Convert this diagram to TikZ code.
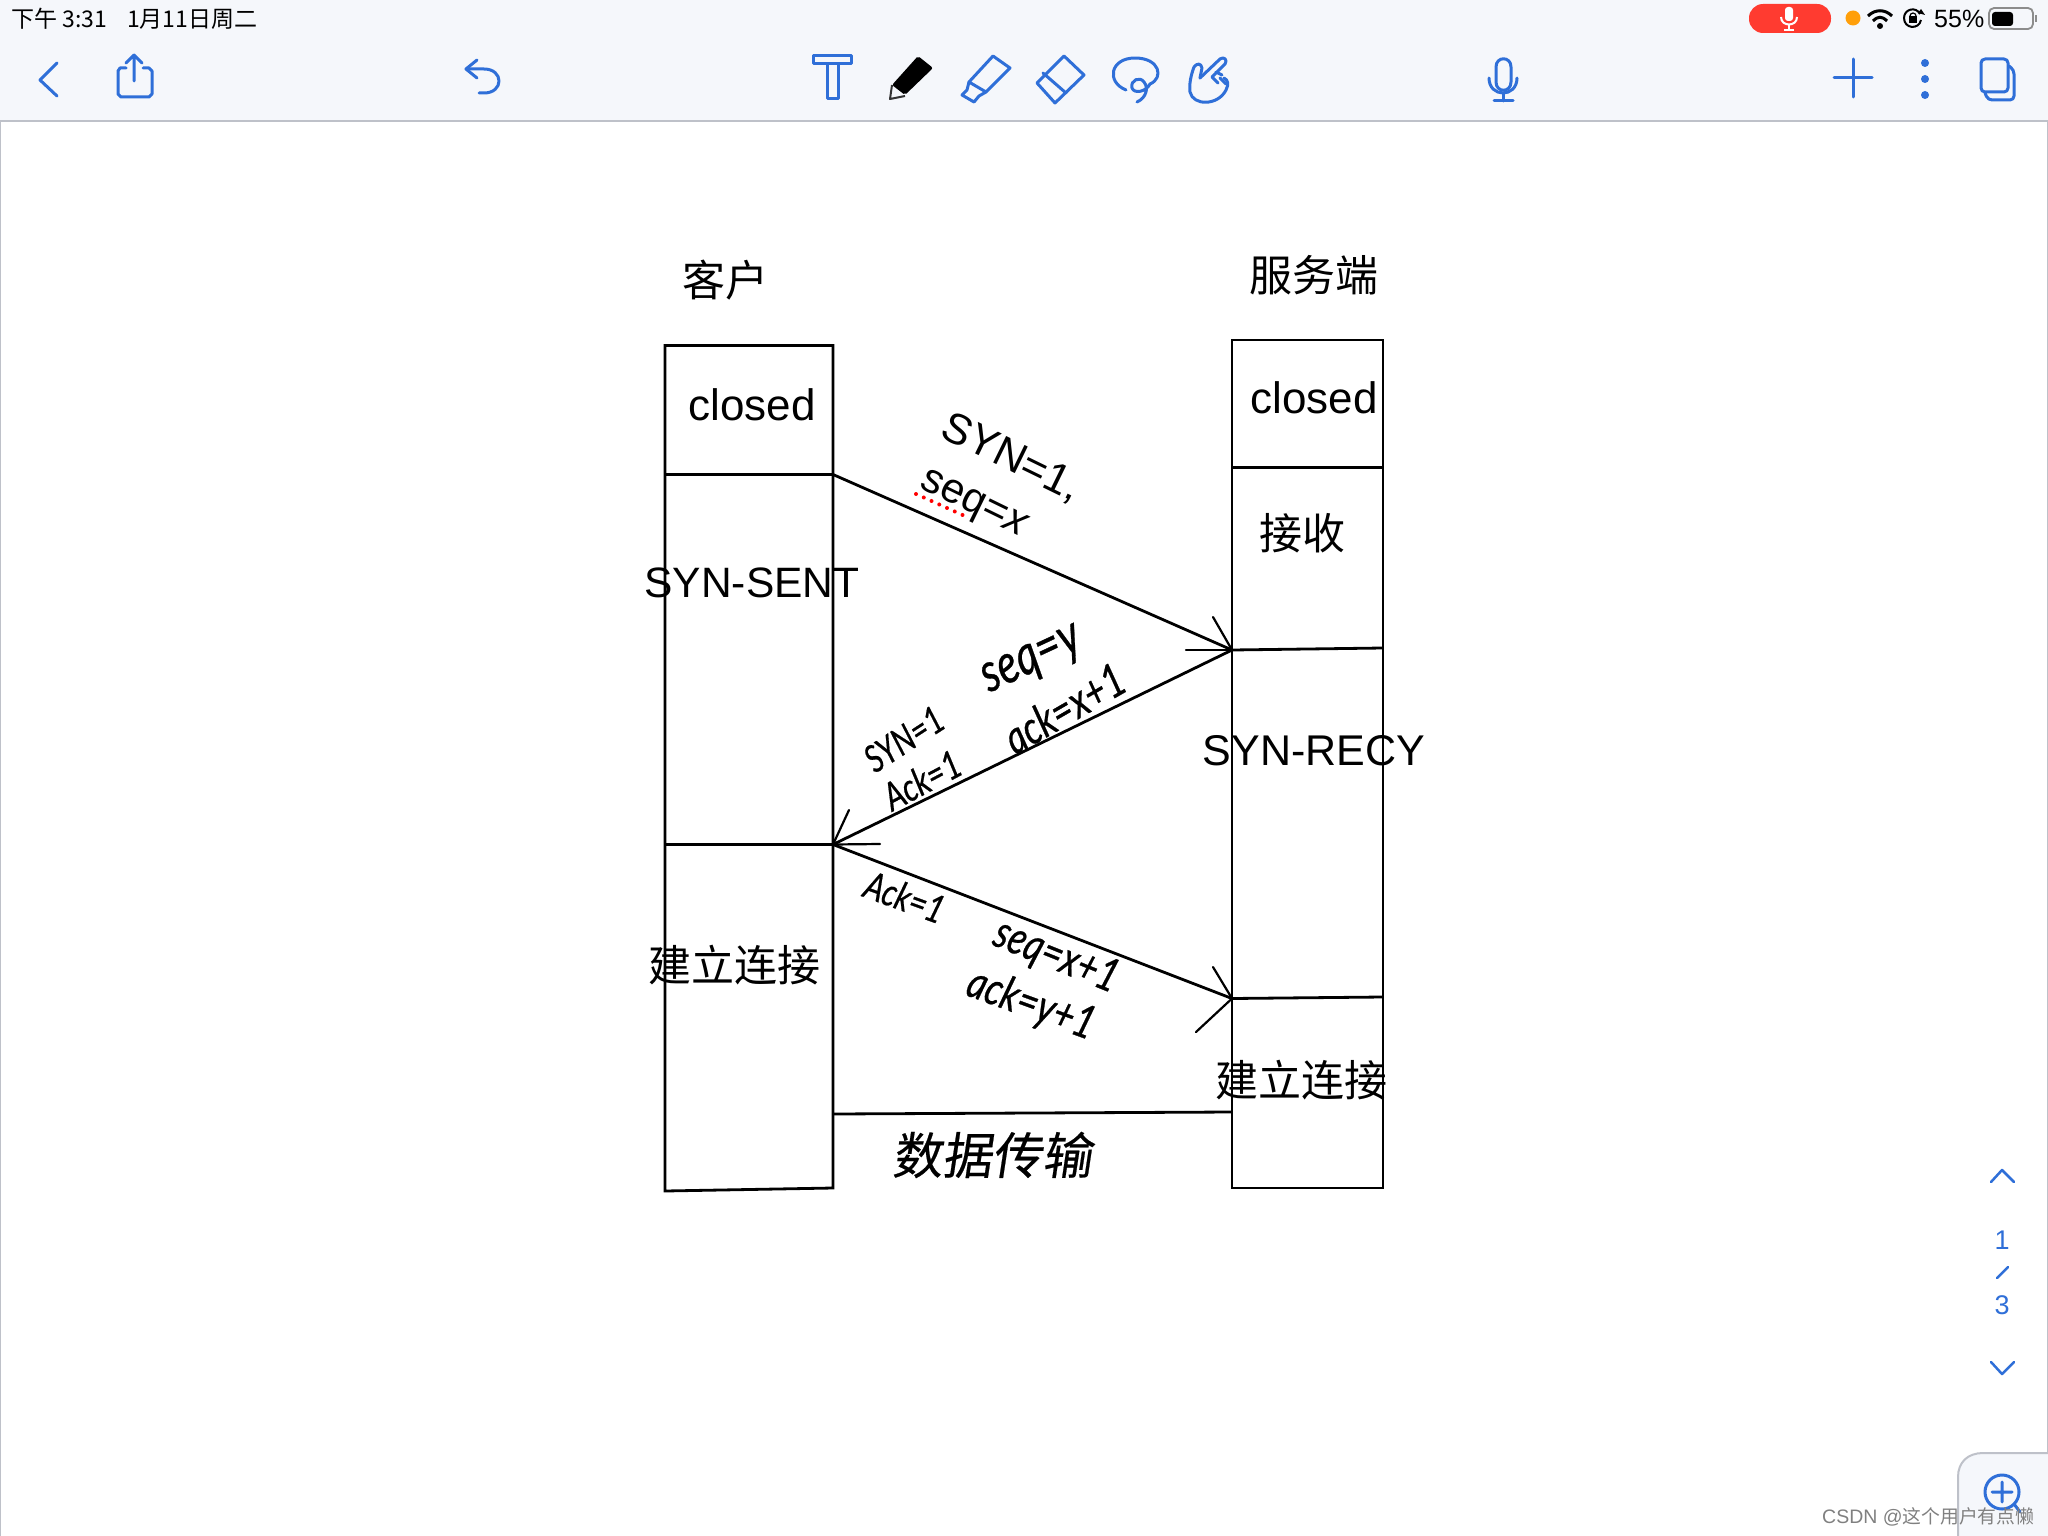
\documentclass[tikz,border=0pt]{standalone}
\usepackage{fontspec}
\setmainfont{Liberation Sans}
\newfontfamily\cjkf{Noto Sans CJK SC}
\newfontfamily\handf[FakeBold=0.6]{Lato}
\newfontfamily\handcjk[FakeSlant=0.15,FakeBold=0.4]{Noto Sans CJK SC}
\definecolor{barbg}{HTML}{F5F7FB}
\definecolor{barline}{HTML}{BEC1C9}
\definecolor{iconblue}{HTML}{2F6FD8}
\definecolor{pillred}{HTML}{FF3B30}
\definecolor{dotorange}{HTML}{FF9F0A}
\newcommand{\fsz}[1]{\fontsize{#1}{#1}\selectfont}
\newcommand{\tall}[1]{\scalebox{0.98}[1.25]{#1}}
\tikzset{
  x=1pt,y=-1pt,
  ln/.style={draw=black,line width=2.8pt,line join=miter},
  tip/.style={draw=black,line width=2.2pt,line cap=round},
  lat/.style={inner sep=0pt,font=\fsz{44}},
  zh/.style={inner sep=0pt,font=\cjkf\fsz{43}},
  hw/.style={inner sep=0pt,text=black},
  icon/.style={draw=iconblue,line width=3pt,line cap=round,line join=round},
  bluetxt/.style={inner sep=0pt,text=iconblue,font=\fsz{27}},
}
\begin{document}
\begin{tikzpicture}
\useasboundingbox (0,0) rectangle (2048,1536);
\fill[white] (0,0) rectangle (2048,1536);
% page edges
\draw[barline,line width=1.5pt] (0.5,120) -- (0.5,1536);
\draw[barline,line width=1.5pt] (2047.5,120) -- (2047.5,1536);
% top bar
\fill[barbg] (0,0) rectangle (2048,120);
\draw[barline,line width=2pt] (0,121) -- (2048,121);
\node[inner sep=0pt,anchor=west,font=\cjkf\fsz{23}] (stime) at (11,19) {下午 3:31};
\node[inner sep=0pt,anchor=west,font=\cjkf\fsz{23}] (sdate) at (127,19) {1月11日周二};
% status right
\fill[pillred,rounded corners=14pt] (1749,4) rectangle (1831,33);
\fill[white,rounded corners=3pt] (1785,7) rectangle (1793,21);
\draw[white,line width=2pt] (1781,17) .. controls (1781,27) and (1797,27) .. (1797,17);
\draw[white,line width=2pt] (1789,24) -- (1789,30) (1784,30) -- (1794,30);
\fill[dotorange] (1853,18) circle[radius=7.5];
\draw[black,line width=3pt] (1868,16) .. controls (1875,9) and (1885,9) .. (1892,16);
\draw[black,line width=3pt] (1873,21) .. controls (1878,16) and (1882,16) .. (1887,21);
\fill[black] (1880,26) circle[radius=3];
\draw[black,line width=2pt] (1920,14) .. controls (1916,6) and (1904,9) .. (1904,18) .. controls (1904,29) and (1919,30) .. (1921,20);
\fill[black] (1918,13) -- (1925,15) -- (1921,9) -- cycle;
\fill[black] (1909,16) rectangle (1917,23);
\draw[black,line width=1.2pt] (1913,16) circle[radius=3];
\node[inner sep=0pt,anchor=west,font=\fsz{25}] (batt) at (1934,19) {55\%};
\draw[black!45,line width=1.8pt,rounded corners=5pt] (1989,8) rectangle (2033,29);
\fill[black,rounded corners=3pt] (1992,12) rectangle (2013,26);
\fill[black!45] (2035,15) rectangle (2037,22);
% toolbar icons
\draw[icon] (57,63) -- (40,80) -- (57,96);
\draw[icon] (126,68) -- (120,68) -- (118,71) -- (118,94) -- (121,97) -- (149,97) -- (152,94) -- (152,71) -- (149,68) -- (143,68);
\draw[icon] (134,81) -- (134,55) (126,63) -- (134,55) -- (142,63);
\draw[icon] (477,60) -- (466,69) -- (477,78);
\draw[icon] (466,69) -- (484,69) .. controls (504,69) and (504,93) .. (484,93) -- (479,93);
\draw[icon] (813,56) rectangle (851,64);
\draw[icon] (827,64) -- (827,99) -- (838,99) -- (838,64);
\fill[black,rounded corners=2pt] (918,56) -- (933,68) -- (905,95) -- (892,85) -- cycle;
\draw[black!80,line width=2pt,line join=round] (892,85) -- (890,99) -- (905,96);
\draw[icon] (993,56) -- (1010,68) -- (986,92) -- (969,82) -- cycle;
\draw[icon] (969,82) -- (967,90) -- (962,95) -- (974,102) -- (979,96) -- (986,92);
\draw[icon] (1064,56) -- (1084,75) -- (1055,103) -- (1037,83) -- cycle;
\draw[icon] (1043,73) -- (1066,93);
\draw[icon] (1126,90) .. controls (1106,82) and (1110,58) .. (1135,58) .. controls (1160,58) and (1164,78) .. (1150,84) .. controls (1146,92) and (1134,94) .. (1132,88) .. controls (1130,80) and (1140,76) .. (1144,82) .. controls (1149,88) and (1146,98) .. (1137,102);
\draw[icon] (1200,78) -- (1202,68) .. controls (1201,63) and (1197,63) .. (1194,67) .. controls (1191,75) and (1189,84) .. (1190,92) .. controls (1193,106) and (1218,106) .. (1226,90) .. controls (1229,84) and (1228,80) .. (1224,78);
\draw[icon] (1200,78) -- (1220,59) .. controls (1224,56) and (1228,60) .. (1225,64) -- (1212,77) (1216,72) -- (1222,75) (1220,78) -- (1226,84) (1212,77) -- (1218,83);
\draw[icon] (1496,67) .. controls (1496,56) and (1511,56) .. (1511,67) -- (1511,82) .. controls (1511,93) and (1496,93) .. (1496,82) -- cycle;
\draw[icon] (1489,78) .. controls (1489,98) and (1517,98) .. (1517,78);
\draw[icon] (1503,93) -- (1503,101) (1494,101) -- (1513,101);
\draw[icon] (1834,78) -- (1872,78) (1853,59) -- (1853,97);
\fill[iconblue] (1925,63) circle[radius=4] (1925,79) circle[radius=4] (1925,95) circle[radius=4];
\draw[icon,rounded corners=4pt] (1981,59) rectangle (2008,92);
\draw[icon,rounded corners=4pt] (2009,66) -- (2014,70) -- (2014,100) -- (1988,100) -- (1985,93);
% right rail
\draw[icon,line width=2.5pt] (1991,1182) -- (2002,1170) -- (2014,1182);
\node[bluetxt] (pg1) at (2002,1240) {1};
\draw[icon,line width=2.5pt] (1997,1278) -- (2008,1267);
\node[bluetxt] (pg3) at (2002,1305) {3};
\draw[icon,line width=2.5pt] (1991,1362) -- (2002,1374) -- (2014,1362);
% corner panel
\filldraw[fill=barbg,draw=barline,line width=2pt] (1958,1537) -- (1958,1477) .. controls (1958,1462) and (1968,1453) .. (1983,1453) -- (2049,1453) -- (2049,1537) -- cycle;
\draw[icon] (2002,1492) circle[radius=17];
\draw[icon] (1992,1492) -- (2012,1492) (2002,1482) -- (2002,1502) (2014,1504) -- (2020,1512);
% coordinates of the boxes
\coordinate (LT1) at (665,345.5);
\coordinate (LT2) at (833,345.5);
\coordinate (L1a) at (665,474.5);
\coordinate (L1b) at (833,474.5);
\coordinate (L2a) at (665,844.5);
\coordinate (L2b) at (833,844.5);
\coordinate (L3b) at (833,1114);
\coordinate (LB1) at (665,1191);
\coordinate (LB2) at (833,1188);
\coordinate (RT1) at (1232,340);
\coordinate (RT2) at (1383,340);
\coordinate (R1a) at (1232,467.5);
\coordinate (R1b) at (1383,467.5);
\coordinate (R2a) at (1232,650);
\coordinate (R2b) at (1383,648);
\coordinate (R3a) at (1232,998.5);
\coordinate (R3b) at (1383,997);
\coordinate (R4a) at (1232,1112);
\coordinate (RB1) at (1232,1188);
\coordinate (RB2) at (1383,1188);
\draw[ln] (LT1) -- (LT2) -- (LB2) -- (LB1) -- cycle;
\draw[ln] (L1a) -- (L1b);
\draw[ln] (L2a) -- (L2b);
\draw[ln] (RT1) -- (RT2) -- (RB2) -- (RB1) -- cycle;
\draw[ln] (R1a) -- (R1b);
\draw[ln] (R2a) -- (R2b);
\draw[ln] (R3a) -- (R3b);
% connectors
\draw[ln] (L1b) -- (R2a);
\draw[ln] (R2a) -- (L2b);
\draw[ln] (L2b) -- (R3a);
\draw[ln] (L3b) -- (R4a);
% arrowheads
\coordinate (a1) at (1186,650);
\coordinate (a2) at (1213,617);
\coordinate (b1) at (880,844);
\coordinate (b2) at (849,810);
\coordinate (c1) at (1213,967);
\coordinate (c2) at (1196,1032);
\draw[tip] (a1) -- (R2a);
\draw[tip] (a2) -- (R2a);
\draw[tip] (b1) -- (L2b);
\draw[tip] (b2) -- (L2b);
\draw[tip] (c1) -- (R3a);
\draw[tip] (c2) -- (R3a);
% labels
\node[zh] (client) at (725,280) {客户};
\node[zh] (server) at (1314,275) {服务端};
\node[lat] (lclosed) at (752,405) {closed};
\node[lat] (rclosed) at (1314,398) {closed};
\node[zh] (recv) at (1302,533) {接收};
\node[lat,font=\fsz{42.5}] (synsent) at (752,583) {SYN-SENT};
\node[lat,font=\fsz{43}] (synrecy) at (1314,751) {SYN-RECY};
\node[zh] (lest) at (734,965) {建立连接};
\node[zh] (rest) at (1301,1080) {建立连接};
% message labels
\node[inner sep=0pt,rotate=-26,font=\fsz{43}] (m1a) at (1011,458) {SYN=1,};
\node[inner sep=0pt,rotate=-26,font=\fsz{42}] (m1b) at (973,506) {seq=\textit{x}};
\draw[red,line width=4pt,line cap=round,dash pattern=on 0pt off 8.5pt] (916,494) -- (967,517);
\node[hw,rotate=25,font=\handf\itshape\fsz{44}] (m2a) at (1033,662) {\tall{seq=y}};
\node[hw,rotate=30,font=\handf\itshape\fsz{37}] (m2b) at (1064,708) {\tall{ack=x+1}};
\node[hw,rotate=33,font=\handf\itshape\fsz{30}] (m2c) at (904,739) {\tall{SYN=1}};
\node[hw,rotate=28,font=\handf\itshape\fsz{31}] (m2d) at (922,780) {\tall{Ack=1}};
\node[hw,rotate=-20,font=\handf\itshape\fsz{31}] (m3a) at (905,897) {\tall{Ack=1}};
\node[hw,rotate=-22,font=\handf\itshape\fsz{37}] (m3b) at (1056,957) {\tall{seq=x+1}};
\node[hw,rotate=-20,font=\handf\itshape\fsz{37}] (m3c) at (1031,1005) {\tall{ack=y+1}};
\node[hw,font=\handcjk\fsz{50}] (m4) at (992,1155) {数据传输};
% watermark
\node[inner sep=0pt,anchor=west,text=black!50,font=\fsz{19.5}] (wm) at (1822,1517) {CSDN @{\cjkf\fsz{18.8}这个用户有点懒}};
\end{tikzpicture}
\end{document}
